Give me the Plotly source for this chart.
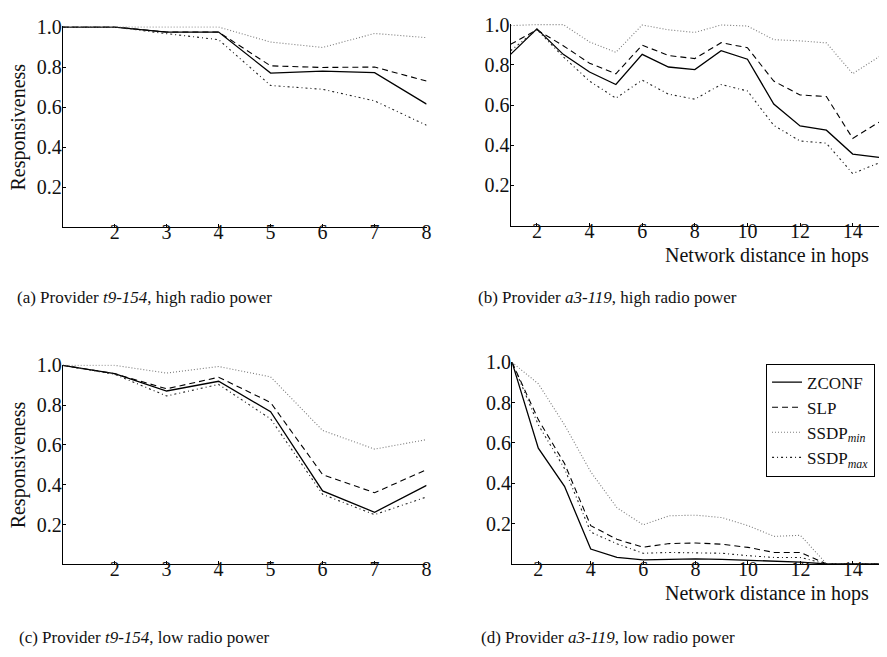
import plotly.graph_objects as go
from plotly.subplots import make_subplots

hops_a = [1, 2, 3, 4, 5, 6, 7, 8]
a_zconf = [1.0, 1.0, 0.975, 0.975, 0.77, 0.78, 0.772, 0.615]
a_slp = [1.0, 1.0, 0.975, 0.975, 0.806, 0.798, 0.80, 0.73]
a_min = [1.0, 1.0, 1.0, 1.0, 0.925, 0.898, 0.968, 0.947]
a_max = [1.0, 1.0, 0.967, 0.937, 0.708, 0.689, 0.631, 0.509]

hops_b = list(range(1, 16))
b_zconf = [0.852, 0.979, 0.852, 0.764, 0.702, 0.852, 0.789, 0.776, 0.870, 0.828, 0.605, 0.496, 0.475, 0.356, 0.34]
b_slp = [0.902, 0.974, 0.895, 0.808, 0.755, 0.898, 0.846, 0.831, 0.91, 0.885, 0.719, 0.65, 0.642, 0.434, 0.515]
b_min = [0.995, 1.0, 1.0, 0.914, 0.862, 0.998, 0.974, 0.961, 0.998, 0.993, 0.925, 0.919, 0.909, 0.756, 0.84]
b_max = [0.87, 0.975, 0.84, 0.719, 0.634, 0.724, 0.654, 0.629, 0.702, 0.67, 0.499, 0.421, 0.41, 0.259, 0.312]

hops_c = [1, 2, 3, 4, 5, 6, 7, 8]
c_zconf = [1.0, 0.958, 0.871, 0.92, 0.767, 0.369, 0.262, 0.397]
c_slp = [1.0, 0.958, 0.882, 0.94, 0.813, 0.451, 0.36, 0.476]
c_min = [1.0, 1.0, 0.961, 0.994, 0.942, 0.673, 0.579, 0.627]
c_max = [1.0, 0.955, 0.846, 0.904, 0.731, 0.352, 0.25, 0.339]

hops_d = list(range(1, 16))
d_zconf = [1.0, 0.574, 0.385, 0.074, 0.033, 0.02, 0.023, 0.025, 0.023, 0.018, 0.012, 0.009, 0.0, 0.0, 0.0]
d_slp = [1.0, 0.716, 0.498, 0.19, 0.122, 0.083, 0.101, 0.104, 0.098, 0.082, 0.057, 0.057, 0.0, 0.0, 0.0]
d_min = [1.0, 0.894, 0.69, 0.457, 0.279, 0.194, 0.239, 0.242, 0.23, 0.19, 0.137, 0.142, 0.0, 0.0, 0.0]
d_max = [1.0, 0.69, 0.473, 0.158, 0.10, 0.053, 0.057, 0.055, 0.053, 0.041, 0.032, 0.032, 0.0, 0.0, 0.0]

series_names = ["ZCONF", "SLP", "SSDP<sub><i>min</i></sub>", "SSDP<sub><i>max</i></sub>"]
ticks_y = [0.2, 0.4, 0.6, 0.8, 1.0]
ticks_x_short = [2, 3, 4, 5, 6, 7, 8]
ticks_x_long = [2, 4, 6, 8, 10, 12, 14]
captions = [
    "(a) Provider <i>t9-154</i>, high radio power",
    "(b) Provider <i>a3-119</i>, high radio power",
    "(c) Provider <i>t9-154</i>, low radio power",
    "(d) Provider <i>a3-119</i>, low radio power",
]

W, H = 887, 657
FONT = "Liberation Serif"

styles = [
    dict(color="black", width=1.3, dash="solid"),
    dict(color="black", width=1.1, dash="6px,4px"),
    dict(color="#7a7a7a", width=1.1, dash="1px,2px"),
    dict(color="#222222", width=1.1, dash="2px,3px,1px,3px"),
]

panels = [
    (hops_a, [a_zconf, a_slp, a_min, a_max], 1, 1),
    (hops_b, [b_zconf, b_slp, b_min, b_max], 1, 2),
    (hops_c, [c_zconf, c_slp, c_min, c_max], 2, 1),
    (hops_d, [d_zconf, d_slp, d_min, d_max], 2, 2),
]

fig = make_subplots(rows=2, cols=2)

for pi, (xs, ys_list, r, c) in enumerate(panels):
    for si, ys in enumerate(ys_list):
        fig.add_trace(go.Scatter(
            x=xs, y=ys, mode="lines", name=series_names[si],
            line=styles[si], showlegend=(pi == 3),
        ), row=r, col=c)

def dom_x(l, r):
    return [l / W, r / W]

def dom_y(top, bottom):
    return [1 - bottom / H, 1 - top / H]

boxes = {
    (1, 1): (63, 429, 16.5, 220.5),
    (1, 2): (513.5, 884, 14, 219),
    (2, 1): (63, 429, 360, 563),
    (2, 2): (515, 884, 357, 562.5),
}

axis_common = dict(
    showline=True, linecolor="black", linewidth=1,
    ticks="inside", ticklen=3, tickcolor="black",
    showgrid=False, zeroline=False, mirror=False,
    tickfont=dict(family=FONT, size=20, color="#111111"),
)

for (r, c), (l, rr, t, b) in boxes.items():
    idx = (r - 1) * 2 + c
    xn = "xaxis" if idx == 1 else f"xaxis{idx}"
    yn = "yaxis" if idx == 1 else f"yaxis{idx}"
    xr = [1, 8] if c == 1 else [1, 15]
    xt = ticks_x_short if c == 1 else ticks_x_long
    fig.layout[xn].update(domain=dom_x(l, rr), range=xr, tickvals=xt,
                          ticklabelstandoff=-13, **axis_common)
    fig.layout[yn].update(domain=dom_y(t, b), range=[0, 1.004], tickvals=ticks_y,
                          ticktext=[f"{v:.1f}" for v in ticks_y],
                          ticklabelstandoff=-4, **axis_common)

annotations = []
for cy in [118.5, 461.5]:
    annotations.append(dict(
        text="Responsiveness", xref="paper", yref="paper",
        x=19 / W, y=1 - cy / H, xanchor="center", yanchor="middle",
        textangle=-90, showarrow=False,
        font=dict(family=FONT, size=20, color="#111111"),
    ))
for cy in [249, 593]:
    annotations.append(dict(
        text="Network distance in hops", xref="paper", yref="paper",
        x=876 / W, y=1 - cy / H, xanchor="right", yanchor="middle",
        showarrow=False, font=dict(family=FONT, size=20, color="#111111"),
    ))
cap_pos = [(145, 292), (611, 292), (145, 637), (611, 637)]
for txt, (cx, cy) in zip(captions, cap_pos):
    annotations.append(dict(
        text=txt, xref="paper", yref="paper",
        x=cx / W, y=1 - cy / H, xanchor="center", yanchor="middle",
        showarrow=False, font=dict(family=FONT, size=17, color="#111111"),
    ))

fig.update_layout(
    width=W, height=H,
    margin=dict(l=0, r=0, t=0, b=0),
    paper_bgcolor="white", plot_bgcolor="white",
    annotations=annotations,
    legend=dict(
        x=880 / W, y=1 - 359 / H, xanchor="right", yanchor="top",
        bgcolor="white", bordercolor="black", borderwidth=1,
        font=dict(family=FONT, size=17, color="#111111"),
        itemwidth=30, tracegroupgap=0,
    ),
)

fig.write_html("out.html")
